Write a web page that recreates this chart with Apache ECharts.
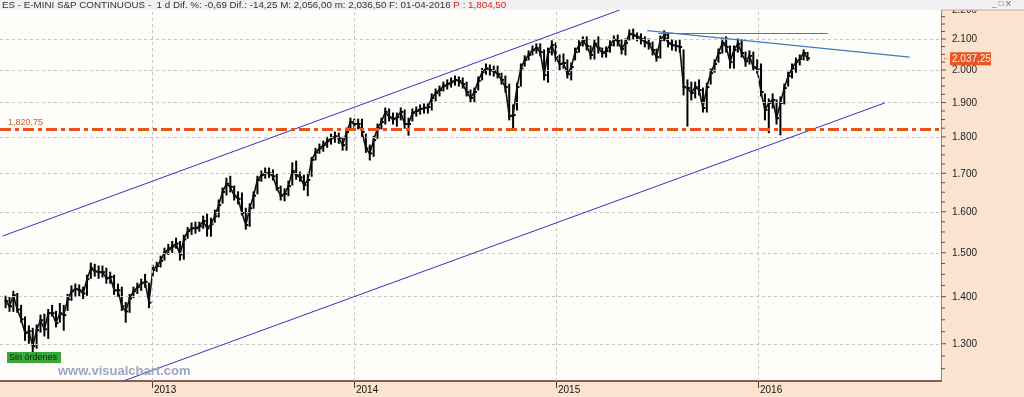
<!DOCTYPE html>
<html><head><meta charset="utf-8">
<script src="https://cdn.jsdelivr.net/npm/echarts@6/dist/echarts.min.js"></script>
<style>html,body{margin:0;padding:0;background:#fbe4cf}#c{width:1024px;height:397px}</style>
</head><body><div id="c"></div>
<script>
// ---- DATA (weekly bars) ----
const firstWeek = '2012-04-11';
const closes = [1390,1379,1403,1372,1351,1322,1326,1295,1328,1349,1330,1364,1364,1343,1364,1360,1394,1412,1417,1414,
1407,1439,1464,1457,1455,1455,1441,1444,1414,1414,1379,1368,1396,1412,1421,1430,1433,1387,1460,1469,
1481,1501,1508,1515,1522,1496,1532,1552,1559,1559,1564,1577,1559,1569,1589,1617,1651,1672,1664,1641,
1633,1597,1567,1609,1641,1682,1695,1700,1700,1692,1661,1641,1646,1666,1706,1695,1689,1669,1682,1736,
1757,1768,1777,1788,1796,1802,1796,1777,1814,1843,1837,1837,1814,1768,1754,1791,1825,1843,1872,1857,
1851,1857,1872,1837,1837,1869,1875,1881,1884,1887,1914,1929,1938,1950,1956,1962,1969,1966,1956,1932,
1914,1932,1966,1993,2005,2000,1996,1987,1969,1947,1860,1863,1947,2005,2032,2048,2064,2070,2057,1984,
2057,2080,2041,2019,2022,1987,2009,2057,2080,2094,2077,2048,2084,2070,2054,2061,2080,2097,2094,2067,
2087,2117,2113,2107,2100,2090,2084,2064,2041,2097,2113,2087,2080,2077,2074,1947,1944,1929,1947,1938,
1884,1947,1990,2019,2054,2087,2074,2025,2064,2084,2054,2028,2045,2009,2003,1932,1878,1899,1908,1854,
1899,1944,1981,2005,2025,2035,2054,2037];
const highs = [1401,1398,1412,1407,1381,1356,1337,1332,1339,1360,1362,1372,1381,1368,1385,1381,1405,1424,1428,1426,
1421,1448,1476,1473,1469,1469,1464,1455,1448,1428,1421,1387,1405,1421,1430,1439,1450,1430,1471,1478,
1492,1511,1520,1527,1535,1527,1542,1561,1572,1574,1574,1589,1594,1584,1604,1630,1661,1687,1692,1666,
1651,1648,1609,1620,1651,1692,1706,1714,1714,1709,1697,1666,1659,1679,1728,1733,1703,1695,1700,1743,
1768,1780,1788,1799,1808,1814,1811,1799,1825,1854,1851,1851,1851,1808,1777,1802,1837,1854,1884,1881,
1869,1869,1884,1878,1854,1881,1887,1893,1896,1896,1926,1941,1950,1962,1969,1975,1981,1978,1975,1962,
1938,1944,1978,2005,2019,2016,2012,2012,1990,1981,1956,1893,1959,2019,2045,2061,2077,2084,2084,2064,
2070,2094,2087,2048,2051,2032,2022,2070,2094,2107,2107,2077,2097,2107,2070,2074,2094,2110,2113,2097,
2100,2130,2133,2120,2117,2107,2100,2090,2067,2110,2127,2117,2097,2094,2097,2064,1969,1962,1962,1969,
1944,1959,2003,2032,2067,2103,2107,2077,2077,2100,2097,2057,2061,2057,2032,2019,1926,1911,1926,1908,
1917,1956,1993,2019,2038,2048,2064,2056];
const lows = [1376,1368,1368,1366,1345,1307,1301,1277,1291,1324,1316,1311,1358,1335,1345,1328,1370,1392,1401,1401,
1396,1403,1441,1446,1441,1444,1430,1430,1405,1401,1370,1345,1366,1398,1407,1414,1421,1376,1446,1457,
1467,1483,1496,1501,1511,1483,1485,1535,1544,1547,1552,1559,1540,1540,1574,1587,1622,1643,1651,1630,
1620,1592,1557,1564,1609,1646,1679,1687,1689,1682,1656,1630,1628,1641,1669,1684,1679,1656,1641,1692,
1736,1754,1760,1771,1780,1785,1782,1763,1763,1825,1825,1823,1802,1757,1736,1746,1796,1823,1837,1846,
1837,1831,1849,1825,1805,1846,1860,1866,1869,1869,1878,1905,1920,1935,1941,1947,1953,1950,1944,1920,
1902,1902,1938,1969,1987,1984,1981,1975,1956,1932,1849,1821,1878,1950,2012,2032,2048,2054,2045,1969,
1962,2048,2028,2000,2006,1975,1969,2032,2057,2077,2064,2035,2035,2054,2041,2041,2057,2077,2077,2051,
2048,2097,2100,2094,2084,2074,2067,2048,2028,2038,2094,2074,2064,2061,2057,1923,1831,1908,1914,1923,
1872,1872,1956,1993,2025,2054,2057,2006,2006,2057,2041,2012,2019,2000,1990,1920,1849,1812,1884,1837,
1806,1896,1950,1975,1993,2016,2032,2030];
const priceTicks = [1300,1400,1500,1600,1700,1800,1900,2000,2100,2200];
const minorTicks = [1250,1275,1325,1350,1375,1425,1450,1475,1525,1550,1575,1625,1650,1675,1725,1750,1775,
1825,1850,1875,1925,1950,1975,2025,2050,2075,2125,2150,2175];
const yearTicks = ['2013','2014','2015','2016'];
const supportLevel = 1820.75;
const supportLabel = '1,820,75';
const lastPrice = 2037.25;
const lastPriceLabel = '2.037,25';
const headerMain = 'ES - E-MINI S&P CONTINUOUS -  1 d Dif. %: -0,69 Dif.: -14,25 M: 2,056,00 m: 2,036,50 F: 01-04-2016 ';
const headerRed = 'P : 1,804,50';
const channelLines = [[['2012-04-06', 1540], ['2015-04-26', 2198]], [['2012-11-10', 1226], ['2016-08-17', 1899]]];
const resistLines = [[['2015-06-15', 2128], ['2016-10-01', 2041]], [['2015-07-05', 2120], ['2016-05-06', 2120]]];

// ---- CHART ----
const DAY = 864e5;
const xMin = Date.UTC(2012, 3, 1, 8, 24);
const xMax = Date.UTC(2016, 10, 26, 16, 0);
const yMin = 1226, yMax = 2198;
const t0 = Date.parse(firstWeek) + 12 * 3600e3;
const bars = closes.map((c, i) => [t0 + i * 7 * DAY, c, highs[i], lows[i]]);
const yearTimes = yearTicks.map(y => Date.UTC(+y, 0, 1));
const fmtTick = v => { const s = String(v); return s.slice(0, s.length - 3) + '.' + s.slice(-3); };
const toT = d => Date.parse(d);
const FONT = '"Liberation Sans", Arial, sans-serif';

const chart = echarts.init(document.getElementById('c'), null, { renderer: 'canvas', width: 1024, height: 397 });
chart.setOption({
  backgroundColor: '#fbe4cf',
  animation: false,
  grid: { left: 0, right: 83, top: 10, bottom: 16, show: true, backgroundColor: '#fffdf9', borderWidth: 0, containLabel: false, outerBoundsMode: 'none' },
  xAxis: { type: 'time', min: xMin, max: xMax,
    axisLine: { show: true, onZero: false, lineStyle: { color: '#8d5a5a', width: 2 } },
    axisTick: { show: false }, axisLabel: { show: false }, splitLine: { show: false } },
  yAxis: { type: 'log', min: yMin, max: yMax, position: 'right',
    axisLine: { show: true, lineStyle: { color: '#b07c7c', width: 1 } },
    axisTick: { show: false }, axisLabel: { show: false }, splitLine: { show: false }, minorSplitLine: { show: false } },
  series: [
    { type: 'line', data: [], z: 1, silent: true,
      markLine: { silent: true, symbol: ['none', 'none'], label: { show: false },
        lineStyle: { type: [3, 3], color: '#c4c4c4', width: 1 },
        data: priceTicks.map(v => ({ yAxis: v })).concat(yearTimes.map(t => ({ xAxis: t }))) } },
    { type: 'line', z: 3, silent: true, symbol: 'none', data: bars.map(b => [b[0], b[1]]),
      lineStyle: { color: '#111', width: 1.6 } },
    { type: 'custom', z: 3, clip: true, data: bars, encode: { x: 0, y: [1, 2, 3] },
      renderItem: (params, api) => {
        const t = api.value(0);
        const c = api.coord([t, api.value(1)]);
        const h = api.coord([t, api.value(2)]);
        const l = api.coord([t, api.value(3)]);
        return { type: 'group', children: [
          { type: 'line', shape: { x1: h[0], y1: h[1] - 0.5, x2: l[0], y2: l[1] + 0.5 }, style: { stroke: '#000', lineWidth: 2 } },
          { type: 'line', shape: { x1: c[0] - 1, y1: c[1], x2: c[0] + 2.5, y2: c[1] }, style: { stroke: '#000', lineWidth: 2 } }
        ] };
      } },
    { type: 'line', data: [], z: 4, silent: true,
      markLine: { silent: true, symbol: ['none', 'none'], label: { show: false },
        data: channelLines.map(seg => [
          { coord: [toT(seg[0][0]), seg[0][1]], lineStyle: { color: '#3434c4', width: 1, type: 'solid' } },
          { coord: [toT(seg[1][0]), seg[1][1]] }])
          .concat(resistLines.map(seg => [
          { coord: [toT(seg[0][0]), seg[0][1]], lineStyle: { color: '#3f7cba', width: 1.2, type: 'solid' } },
          { coord: [toT(seg[1][0]), seg[1][1]] }])) } },
    { type: 'line', data: [], z: 5, silent: true,
      markLine: { silent: true, symbol: ['none', 'none'],
        data: [{ yAxis: supportLevel,
          lineStyle: { color: '#e8531c', width: 3, type: [11, 4, 4, 4] },
          label: { show: true, position: 'insideStartTop', formatter: supportLabel, color: '#e0582a', fontSize: 9, fontFamily: FONT, distance: [8, 3] } }] } },
    { type: 'custom', z: 6, clip: false, silent: true, data: priceTicks.map(v => [xMax, v]), encode: { x: 0, y: 1 },
      renderItem: (params, api) => {
        const p = api.coord([api.value(0), api.value(1)]);
        return { type: 'group', children: [
          { type: 'line', shape: { x1: p[0], y1: p[1], x2: p[0] + 5, y2: p[1] }, style: { stroke: '#6a4848', lineWidth: 1 } },
          { type: 'text', x: p[0] + 11, y: p[1] + 0.5, style: { text: fmtTick(api.value(1)), fill: '#222', font: '10px ' + FONT, align: 'left', verticalAlign: 'middle' } }
        ] };
      } },
    { type: 'custom', z: 6, clip: false, silent: true, data: minorTicks.map(v => [xMax, v]), encode: { x: 0, y: 1 },
      renderItem: (params, api) => {
        const p = api.coord([api.value(0), api.value(1)]);
        return { type: 'line', shape: { x1: p[0], y1: p[1], x2: p[0] + 4, y2: p[1] }, style: { stroke: '#6a4848', lineWidth: 1 } };
      } },
    { type: 'custom', z: 6, clip: false, silent: true, data: yearTimes.map(t => [t, yMin]), encode: { x: 0, y: 1 },
      renderItem: (params, api) => {
        const p = api.coord([api.value(0), api.value(1)]);
        return { type: 'group', children: [
          { type: 'line', shape: { x1: p[0] + 0.5, y1: p[1], x2: p[0] + 0.5, y2: p[1] + 7 }, style: { stroke: '#5a3030', lineWidth: 1 } },
          { type: 'text', x: p[0] + 2, y: p[1] + 9, style: { text: yearTicks[params.dataIndex], fill: '#111', font: '10px ' + FONT, align: 'left', verticalAlign: 'middle' } }
        ] };
      } },
    { type: 'custom', z: 7, clip: false, silent: true, data: [[xMax, lastPrice]], encode: { x: 0, y: 1 },
      renderItem: (params, api) => {
        const p = api.coord([api.value(0), api.value(1)]);
        return { type: 'group', children: [
          { type: 'text', x: p[0] + 1, y: p[1], style: { text: '\u2190', fill: '#c04020', font: '8px ' + FONT, verticalAlign: 'middle' } },
          { type: 'rect', shape: { x: p[0] + 9, y: p[1] - 6, width: 41, height: 13 }, style: { fill: '#ea5424' } },
          { type: 'text', x: p[0] + 11, y: p[1] + 0.5, style: { text: lastPriceLabel, fill: '#fff4ec', font: '10px ' + FONT, verticalAlign: 'middle' } }
        ] };
      } }
  ],
  graphic: [
    { type: 'rect', z: 100, shape: { x: 0, y: 0, width: 1024, height: 10 }, style: { fill: '#f1f1f1' } },
    { type: 'line', z: 100, shape: { x1: 941, y1: 10, x2: 1024, y2: 10 }, style: { stroke: '#c8a8a0', lineWidth: 1 } },
    { type: 'text', z: 101, x: 2, y: 5, style: { text: '{a|' + headerMain + '}{b|' + headerRed + '}', verticalAlign: 'middle',
      rich: { a: { fill: '#333', font: '9.8px ' + FONT }, b: { fill: '#e02020', font: '9.8px ' + FONT } } } },
    { type: 'text', z: 101, x: 992, y: 4, style: { text: '_ \u25A1 X', fill: '#555', font: '8px ' + FONT, verticalAlign: 'middle' } },
    { type: 'rect', z: 50, shape: { x: 7, y: 352, width: 54, height: 11 }, style: { fill: '#36a936' } },
    { type: 'text', z: 51, x: 9, y: 358, style: { text: 'Sin órdenes', fill: '#0b240b', font: '9px ' + FONT, verticalAlign: 'middle' } },
    { type: 'text', z: 50, x: 58, y: 371, style: { text: 'www.visualchart.com', fill: '#9ca4c4', font: 'bold 13px ' + FONT, verticalAlign: 'middle' } }
  ]
});
</script></body></html>
